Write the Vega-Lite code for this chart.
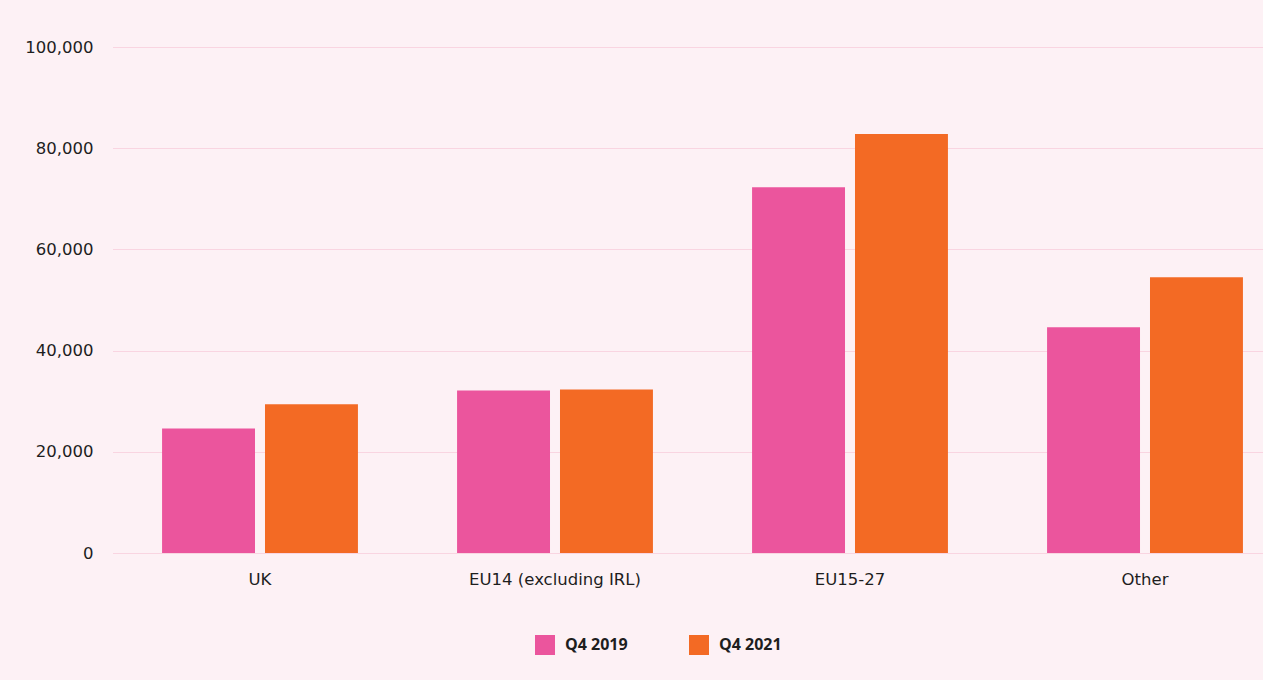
{
  "$schema": "https://vega.github.io/schema/vega-lite/v6.json",
  "autosize": "none",
  "width": 1151,
  "height": 506,
  "padding": {"left": 112, "top": 47, "right": 0, "bottom": 127},
  "background": "#fdf1f5",
  "config": {
    "view": {"stroke": null},
    "font": "DejaVu Sans",
    "axis": {"labelColor": "#1e1e1e", "labelFontSize": 16.5, "ticks": false, "domain": false}
  },
  "data": {
    "values": [
      {"region": "UK", "period": "Q4 2019", "people": 24600},
      {"region": "UK", "period": "Q4 2021", "people": 29400},
      {"region": "EU14 (excluding IRL)", "period": "Q4 2019", "people": 32100},
      {"region": "EU14 (excluding IRL)", "period": "Q4 2021", "people": 32300},
      {"region": "EU15-27", "period": "Q4 2019", "people": 72300},
      {"region": "EU15-27", "period": "Q4 2021", "people": 82800},
      {"region": "Other", "period": "Q4 2019", "people": 44600},
      {"region": "Other", "period": "Q4 2021", "people": 54500}
    ]
  },
  "mark": {"type": "bar"},
  "encoding": {
    "x": {
      "field": "region",
      "type": "nominal",
      "sort": ["UK", "EU14 (excluding IRL)", "EU15-27", "Other"],
      "scale": {"range": [0.5, 1180.5], "paddingInner": 0.336, "paddingOuter": 0.168},
      "axis": {"title": null, "labelAngle": 0, "labelPadding": 18, "grid": false}
    },
    "xOffset": {
      "field": "period",
      "type": "nominal",
      "scale": {"paddingInner": 0.097, "paddingOuter": 0}
    },
    "y": {
      "field": "people",
      "type": "quantitative",
      "scale": {"domain": [0, 100000], "nice": false},
      "axis": {
        "title": null,
        "values": [0, 20000, 40000, 60000, 80000, 100000],
        "format": ",d",
        "labelPadding": 19,
        "gridColor": "#f9d5e1",
        "gridWidth": 1
      }
    },
    "color": {
      "field": "period",
      "type": "nominal",
      "scale": {"domain": ["Q4 2019", "Q4 2021"], "range": ["#eb559d", "#f36a24"]},
      "legend": {
        "title": null,
        "orient": "none",
        "direction": "horizontal",
        "legendX": 423,
        "legendY": 588,
        "padding": 0,
        "symbolType": "square",
        "symbolSize": 400,
        "symbolStrokeWidth": 0,
        "symbolOpacity": 1,
        "labelFont": "Open Sans",
        "labelFontSize": 16,
        "labelFontWeight": "bold",
        "labelColor": "#1e1e1e",
        "labelOffset": 10,
        "columnPadding": 61
      }
    }
  }
}
